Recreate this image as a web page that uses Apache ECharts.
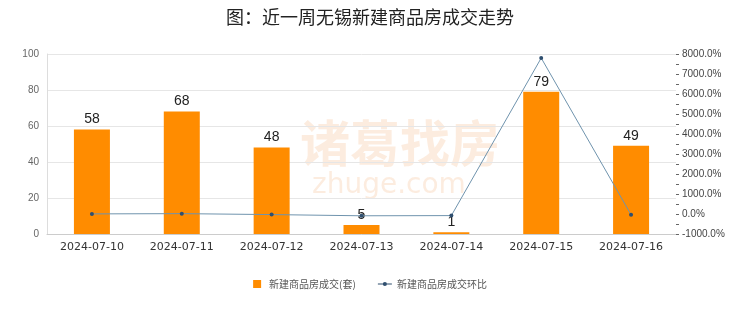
<!DOCTYPE html>
<html><head><meta charset="utf-8">
<script src="https://cdn.jsdelivr.net/npm/echarts@6/dist/echarts.min.js"></script>
<style>html,body{margin:0;padding:0;background:#fff}#c{width:740px;height:312px}</style>
</head><body><div id="c"></div>
<script>
var categories = ['2024-07-10','2024-07-11','2024-07-12','2024-07-13','2024-07-14','2024-07-15','2024-07-16'];
var deals = [58, 68, 48, 5, 1, 79, 49];
var ratio = [5, 17.2, -29.4, -89.6, -80, 7800, -38];
var leftTicks = [0, 20, 40, 60, 80, 100];
var rightTicks = [-1000, 0, 1000, 2000, 3000, 4000, 5000, 6000, 7000, 8000];

var chart = echarts.init(document.getElementById('c'));
chart.setOption({
  animation: false,
  title: {text: '图：近一周无锡新建商品房成交走势', left: 'center', top: 3,
    textStyle: {fontSize: 18, fontWeight: 'normal', color: '#222', fontFamily: 'Noto Sans CJK SC'}},
  graphic: [
    {type: 'text', left: 300, top: 118, style: {text: '诸葛找房', fontSize: 50, fontWeight: 'bold', fill: 'rgba(240,170,110,0.22)', fontFamily: 'Noto Sans CJK SC'}},
    {type: 'text', left: 312, top: 172, style: {text: 'zhuge.com', fontSize: 28, fill: 'rgba(240,170,110,0.22)', fontFamily: 'DejaVu Sans', letterSpacing: 6}}
  ],
  legend: {bottom: 18, itemWidth: 14, itemHeight: 8, itemGap: 22,
    textStyle: {fontSize: 10, color: '#555', fontFamily: 'Noto Sans CJK SC'},
    data: [{name: '新建商品房成交(套)', icon: 'path://M3,0 L11,0 L11,8 L3,8 Z'},
           {name: '新建商品房成交环比', icon: 'path://M2,3.6 L12,3.6 L12,4.4 L2,4.4 Z M7,2.5 A1.5,1.5 0 1,1 7,5.5 A1.5,1.5 0 1,1 7,2.5 Z'}]},
  grid: {left: 47, right: 64, top: 54, bottom: 78},
  xAxis: {type: 'category', data: categories,
    axisLine: {lineStyle: {color: '#ccc'}}, axisTick: {show: false},
    axisLabel: {color: '#333', fontSize: 11, margin: 8, interval: 0, fontFamily: 'DejaVu Sans'}},
  yAxis: [
    {type: 'value', min: leftTicks[0], max: leftTicks[leftTicks.length-1], interval: 20,
      axisLine: {show: true, lineStyle: {color: '#ddd'}}, axisTick: {show: false},
      axisLabel: {color: '#666', fontSize: 10, margin: 8},
      splitLine: {lineStyle: {color: '#e6e6e6'}}},
    {type: 'value', min: rightTicks[0], max: rightTicks[rightTicks.length-1], interval: 1000,
      axisLine: {show: false}, axisTick: {show: true, length: 3, inside: false, lineStyle: {color: '#666'}},
      minorTick: {show: true, splitNumber: 2, length: 3, lineStyle: {color: '#666'}},
      axisLabel: {color: '#444', fontSize: 10, margin: 6, formatter: function(v){return v.toFixed(1)+'%';}},
      splitLine: {show: false}}
  ],
  series: [
    {name: '新建商品房成交(套)', type: 'bar', data: deals, barWidth: 36,
      itemStyle: {color: '#FF8C00'},
      label: {show: true, position: 'top', color: '#222', fontSize: 14, distance: 3}},
    {name: '新建商品房成交环比', type: 'line', yAxisIndex: 1, data: ratio,
      symbol: 'circle', symbolSize: 4,
      lineStyle: {color: '#6f93ad', width: 1}, itemStyle: {color: '#2f4f6f'}}
  ]
});
</script></body></html>
